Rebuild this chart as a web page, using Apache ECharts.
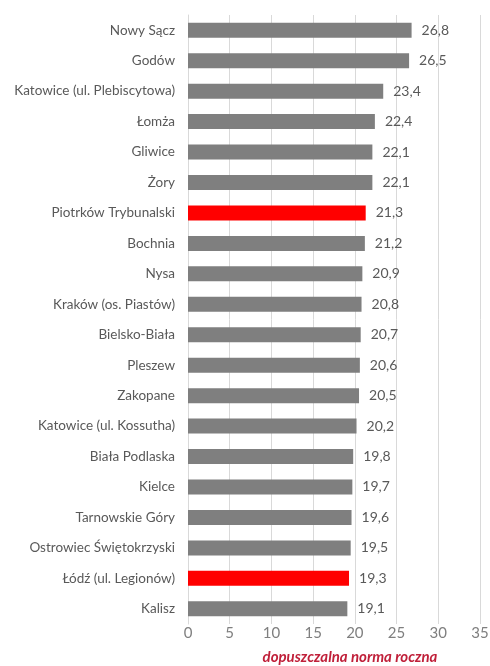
<!DOCTYPE html>
<html>
<head>
<meta charset="utf-8">
<script src="https://cdn.jsdelivr.net/npm/echarts@6/dist/echarts.min.js"></script>
<style>
  html, body { margin: 0; padding: 0; background: #fff; }
  #chart { width: 490px; height: 666px; }
</style>
</head>
<body>
<div id="chart"></div>
<script>
// stacje pomiarowe, od góry do dołu
var stations = [
  "Nowy Sącz", "Godów", "Katowice (ul. Plebiscytowa)", "Łomża", "Gliwice",
  "Żory", "Piotrków Trybunalski", "Bochnia", "Nysa", "Kraków (os. Piastów)",
  "Bielsko-Biała", "Pleszew", "Zakopane", "Katowice (ul. Kossutha)", "Biała Podlaska",
  "Kielce", "Tarnowskie Góry", "Ostrowiec Świętokrzyski", "Łódź (ul. Legionów)", "Kalisz"
];
var values = [26.8, 26.5, 23.4, 22.4, 22.1, 22.1, 21.3, 21.2, 20.9, 20.8,
  20.7, 20.6, 20.5, 20.2, 19.8, 19.7, 19.6, 19.5, 19.3, 19.1];
var highlighted = ["Piotrków Trybunalski", "Łódź (ul. Legionów)"];
var xTicks = [0, 5, 10, 15, 20, 25, 30, 35];
var normLabel = "dopuszczalna norma roczna";
var normValue = 20;

var chart = echarts.init(document.getElementById("chart"));
var font = "Lato, 'Open Sans', sans-serif";

var barData = values.map(function (v, i) {
  return {
    value: v,
    itemStyle: { color: highlighted.indexOf(stations[i]) >= 0 ? "#ff0000" : "#7f7f7f" }
  };
});

var option = {
  backgroundColor: "#fff",
  animation: false,
  grid: { left: 188, right: 10, top: 15, bottom: 42, outerBoundsMode: "none" },
  xAxis: {
    type: "value",
    min: xTicks[0],
    max: xTicks[xTicks.length - 1],
    interval: 5,
    axisLine: { show: false },
    axisTick: { show: false },
    splitLine: { show: true, lineStyle: { color: "#d9d9d9", width: 1 } },
    axisLabel: {
      margin: 2,
      fontFamily: font,
      fontSize: 15,
      color: function (v) { return v === normValue ? "#c0203a" : "#7f7f7f"; }
    },
    name: normLabel,
    nameLocation: "middle",
    nameGap: 26,
    nameTextStyle: {
      fontFamily: font,
      fontSize: 15,
      fontStyle: "italic",
      fontWeight: "bold",
      color: "#c0203a",
      padding: [0, 0, 0, 32]
    }
  },
  yAxis: {
    type: "category",
    inverse: true,
    data: stations,
    axisLine: { show: true, lineStyle: { color: "#d9d9d9" } },
    axisTick: { show: false },
    axisLabel: { margin: 13, fontFamily: font, fontSize: 13.5, color: "#595959" }
  },
  series: [{
    type: "bar",
    data: barData,
    barWidth: 15,
    label: {
      show: true,
      position: "right",
      distance: 10,
      fontFamily: font,
      fontSize: 14,
      color: "#595959",
      formatter: function (p) { return p.value.toFixed(1).replace(".", ","); }
    }
  }]
};
chart.setOption(option);
</script>
</body>
</html>
